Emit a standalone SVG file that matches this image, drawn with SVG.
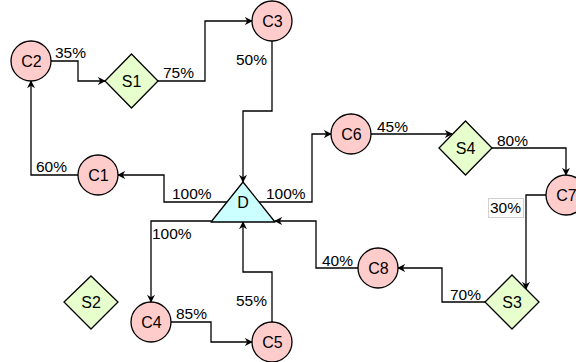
<svg xmlns="http://www.w3.org/2000/svg" width="576" height="362" viewBox="0 0 576 362">
<defs>
<marker id="arr" viewBox="0 0 10 10" refX="9" refY="5" markerWidth="8" markerHeight="8" markerUnits="userSpaceOnUse" orient="auto">
<path d="M0,0 L10,5 L0,10 L3,5 Z" fill="#000"/>
</marker>
</defs>
<style>
.c{fill:#ffcccc;stroke:#000;stroke-width:1.3}
.s{fill:#e6ffcc;stroke:#000;stroke-width:1.3}
.t{fill:#ccffff;stroke:#000;stroke-width:1.3;stroke-linejoin:round}
.n{font-family:"Liberation Sans",Arial,sans-serif;font-size:16px;text-anchor:middle;fill:#000}
.l{font-family:"Liberation Sans",Arial,sans-serif;font-size:15.5px;fill:#000}
.e{fill:none;stroke:#000;stroke-width:1.3;marker-end:url(#arr)}
</style>
<rect width="576" height="362" fill="#fff"/>
<g id="connectors">
<path class="e" d="M51,61 H78 V81 H105"/>
<path class="e" d="M158,81 H205 V21 H252"/>
<path class="e" d="M272,41 V111 H243 V182"/>
<path class="e" d="M227,202 H164 V175 H118"/>
<path class="e" d="M78,175 H31 V81"/>
<path class="e" d="M259,202 H312 V134 H331"/>
<path class="e" d="M371,134 H452"/>
<path class="e" d="M492,148 H566 V175"/>
<path class="e" d="M546,195 H526 V289"/>
<path class="e" d="M485,302 H442 V268 H398"/>
<path class="e" d="M358,268 H316 V221 H275"/>
<path class="e" d="M211,221 H151 V302"/>
<path class="e" d="M171,322 H211 V342 H252"/>
<path class="e" d="M272,322 V272 H243 V222"/>
<rect x="488.5" y="198.5" width="35" height="19" fill="#fff" stroke="#d0d0d0" stroke-width="1"/>
<text class="l" x="55" y="58">35%</text>
<text class="l" x="163" y="78">75%</text>
<text class="l" x="236" y="65">50%</text>
<text class="l" x="36" y="172">60%</text>
<text class="l" x="172" y="199">100%</text>
<text class="l" x="266" y="199">100%</text>
<text class="l" x="377" y="132">45%</text>
<text class="l" x="497" y="146">80%</text>
<text class="l" x="490" y="213">30%</text>
<text class="l" x="450" y="300">70%</text>
<text class="l" x="322" y="266">40%</text>
<text class="l" x="152" y="239">100%</text>
<text class="l" x="176" y="319">85%</text>
<text class="l" x="236" y="306">55%</text>
</g>
<g id="C2"><circle class="c" cx="31" cy="61" r="20"/><text class="n" x="31.5" y="66.5">C2</text></g>
<g id="S1"><polygon class="s" points="131.5,54 158,81 131.5,108 105,81"/><text class="n" x="131.5" y="86.5">S1</text></g>
<g id="C3"><circle class="c" cx="272" cy="21" r="20"/><text class="n" x="272.5" y="26.5">C3</text></g>
<g id="C1"><circle class="c" cx="98" cy="175" r="20"/><text class="n" x="98.5" y="180.5">C1</text></g>
<g id="D"><polygon class="t" points="243,182 275,222 211,222"/><text class="n" x="243" y="208">D</text></g>
<g id="C6"><circle class="c" cx="351" cy="134" r="20"/><text class="n" x="351.5" y="139.5">C6</text></g>
<g id="S4"><polygon class="s" points="465.5,121 492,148 465.5,175 439,148"/><text class="n" x="465.5" y="153.5">S4</text></g>
<g id="C7"><circle class="c" cx="566" cy="195" r="20"/><text class="n" x="566.5" y="200.5">C7</text></g>
<g id="S3"><polygon class="s" points="512,275 539,302 512,329 485,302"/><text class="n" x="512" y="307.5">S3</text></g>
<g id="C8"><circle class="c" cx="378" cy="268" r="20"/><text class="n" x="378.5" y="273.5">C8</text></g>
<g id="S2"><polygon class="s" points="91,276 118,302 91,329 64,302"/><text class="n" x="91" y="307.5">S2</text></g>
<g id="C4"><circle class="c" cx="151" cy="322" r="20"/><text class="n" x="151.5" y="327.5">C4</text></g>
<g id="C5"><circle class="c" cx="272" cy="342" r="20"/><text class="n" x="272.5" y="347.5">C5</text></g>
</svg>
